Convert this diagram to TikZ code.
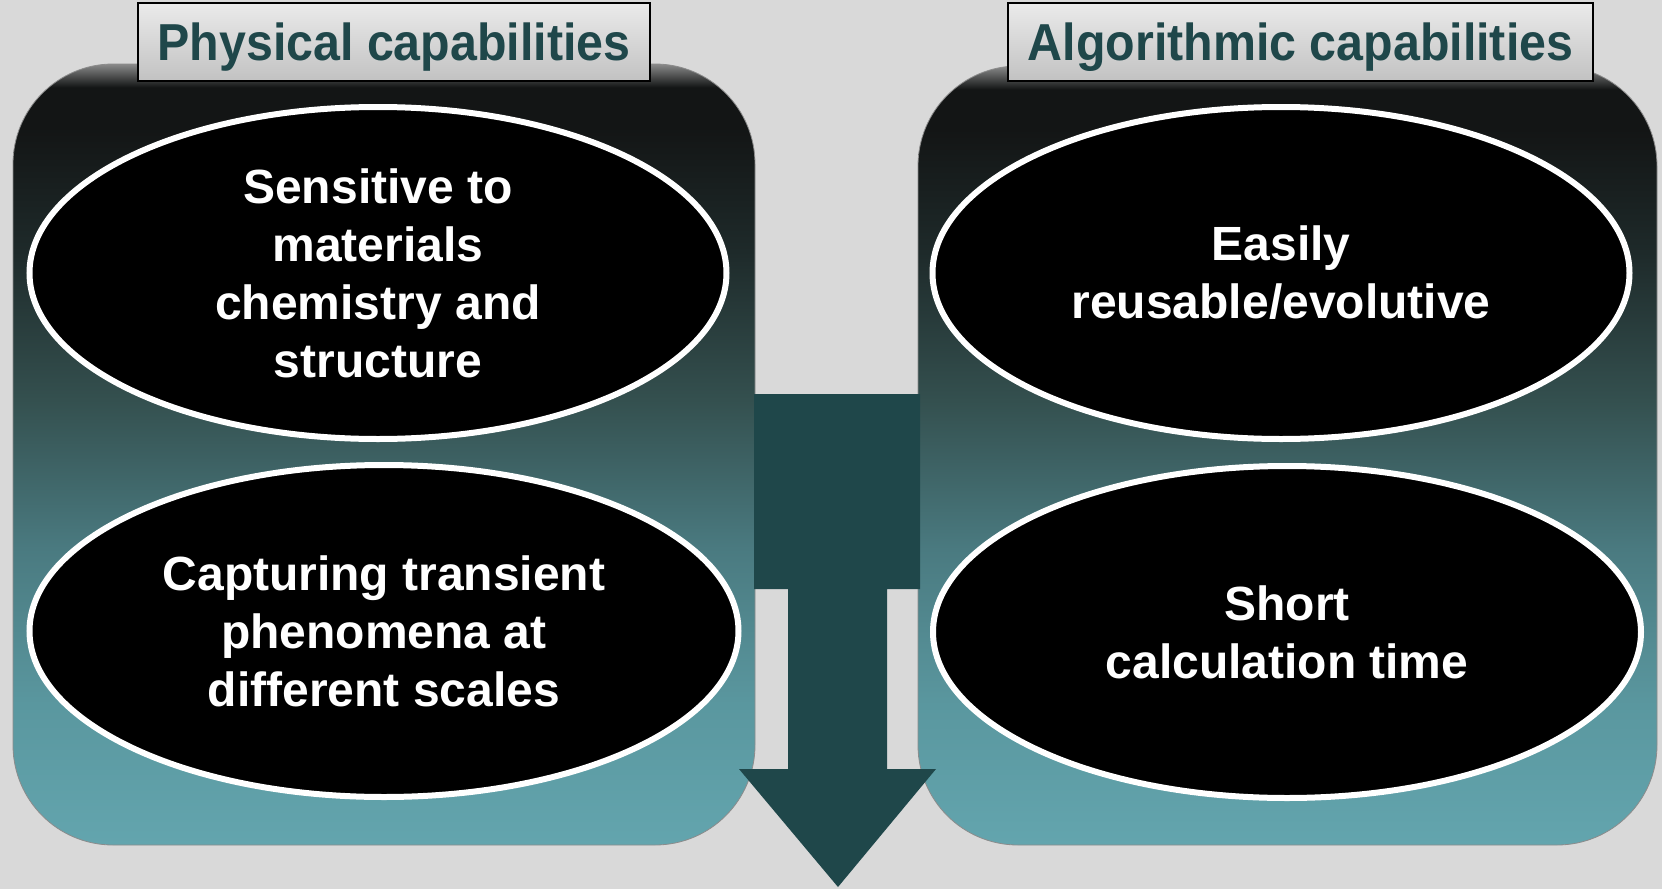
\documentclass[tikz,border=0pt]{standalone}
\usepackage{fontspec}
\setmainfont{Liberation Sans}
\usepackage{xcolor}
\usepackage{graphicx}
\usetikzlibrary{positioning,shapes.geometric}

\definecolor{bggray}{HTML}{D9D9D9}
\definecolor{teal1}{HTML}{1F474A}
\definecolor{panelbot}{HTML}{63A5AE}
\definecolor{panelA}{HTML}{5A979F}
\definecolor{panelB}{HTML}{4A7A80}
\definecolor{panelC}{HTML}{34504F}
\definecolor{panelD}{HTML}{1E2A2A}
\definecolor{panelE}{HTML}{131515}
\definecolor{panelrim}{HTML}{8A8A8A}

% panel colour runs from teal (bottom) to black with a grey rim (top)
\pgfdeclareverticalshading{panelshade}{100bp}{%
  color(0bp)=(panelbot); color(25bp)=(panelbot); color(34bp)=(panelA);
  color(44bp)=(panelB); color(53.5bp)=(panelC); color(63bp)=(panelD);
  color(71bp)=(panelE); color(73.5bp)=(panelE); color(75bp)=(panelrim);
  color(100bp)=(panelrim)}

\newcommand{\narrowtitle}[1]{\scalebox{0.93}[1]{#1}}

\begin{document}
\begin{tikzpicture}[
  x=0.5pt, y=-0.5pt,
  every node/.style={font=\bfseries},
  panel/.style={rectangle, rounded corners=50pt, shading=panelshade,
    draw=black!45, line width=0.4pt, inner sep=0pt},
  title/.style={rectangle, draw=black, line width=0.8pt, top color=black!8,
    bottom color=black!24, text=teal1, inner sep=0pt, minimum height=39pt,
    text height=18.5pt, text depth=0pt,
    font=\bfseries\fontsize{26}{30}\selectfont},
  idea/.style={ellipse, fill=black, draw=white, line width=3pt, text=white,
    align=center, inner sep=0pt, minimum height=166pt,
    font=\bfseries\fontsize{24}{29}\selectfont}
]
\fill[bggray] (0,0) rectangle (1662,889);
\useasboundingbox (0,0) rectangle (1662,889);

\node[panel, minimum width=371pt, minimum height=390.5pt] (physPanel) at (384,454.5) {};
\node[panel, minimum width=369.5pt, minimum height=389.5pt] (algoPanel) at (1287.5,455.5) {};

\node[title, minimum width=256pt] (physTitle) at (394,42) {\narrowtitle{Physical capabilities}};
\node[title, minimum width=292.5pt] (algoTitle) at (1300.5,42) {\narrowtitle{Algorithmic capabilities}};

\node[idea, minimum width=348.5pt] (sensitive) at (378,273)
  {Sensitive to\\materials\\chemistry and\\structure};
\node[idea, minimum width=354.5pt] (transient) at (384,631)
  {Capturing transient\\phenomena at\\different scales};
\node[idea, minimum width=348.5pt] (reusable) at (1281,273)
  {Easily\\reusable/evolutive};
\node[idea, minimum width=354pt] (calctime) at (1287,632)
  {Short\\calculation time};

% down arrow between the panels
\fill[teal1] (754,394) -- (920,394) -- (920,589) -- (887,589) -- (887,769)
  -- (936,769) -- (838,887) -- (739,769) -- (788,769) -- (788,589)
  -- (754,589) -- cycle;
\end{tikzpicture}
\end{document}
